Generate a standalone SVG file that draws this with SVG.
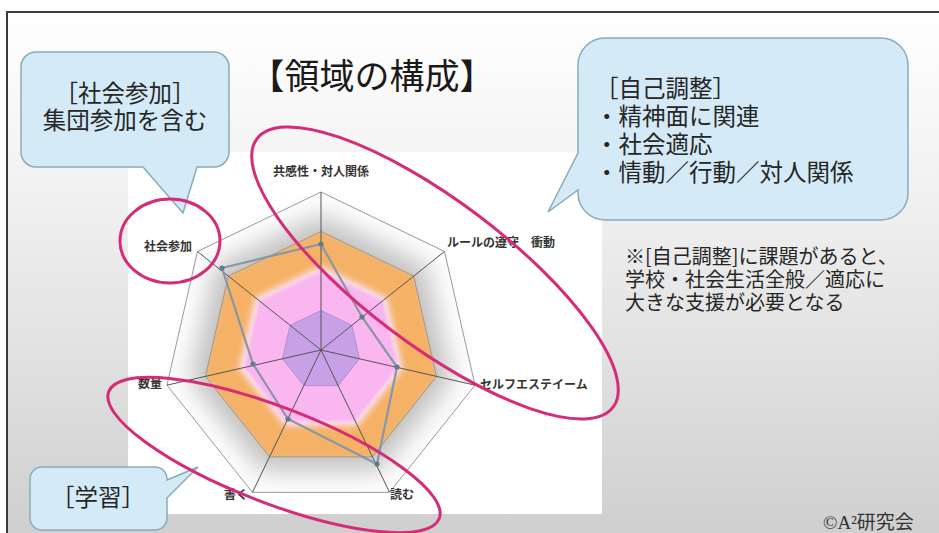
<svg xmlns="http://www.w3.org/2000/svg" width="939" height="533" viewBox="0 0 939 533">
<defs>
<linearGradient id="bg" x1="0" y1="12" x2="0" y2="533" gradientUnits="userSpaceOnUse">
<stop offset="0" stop-color="#ffffff"/>
<stop offset="0.35" stop-color="#f1f1f1"/>
<stop offset="1" stop-color="#cfcfcf"/>
</linearGradient>
<filter id="shadow" x="-40%" y="-40%" width="180%" height="180%"><feGaussianBlur stdDeviation="13"/></filter>
<filter id="soft" x="-20%" y="-20%" width="140%" height="140%"><feGaussianBlur stdDeviation="3"/></filter>
<filter id="soft1" x="-20%" y="-20%" width="140%" height="140%"><feGaussianBlur stdDeviation="1.6"/></filter>
<style>
.callout{fill:#d4eaf6;stroke:#8aabb9;stroke-width:1.5}
.ctext{font-family:"Noto Sans CJK JP","Noto Sans",sans-serif;font-size:23.5px;fill:#262626}
.axis{font-family:"Noto Sans CJK JP","Noto Sans",sans-serif;font-size:12px;font-weight:bold;fill:#333}
.note{font-family:"Noto Sans CJK JP","Noto Sans",sans-serif;font-size:20px;fill:#262626}
.ring{fill:none;stroke:#d62b77;stroke-width:3}
.spoke{stroke:#555;stroke-width:1}
.grid{fill:none;stroke:#9a9a9a;stroke-width:1}
.dot{fill:#5b7d8e}
</style>
</defs>

<rect x="0" y="0" width="939" height="533" fill="#ffffff"/>
<rect x="7" y="12" width="940" height="530" fill="url(#bg)"/>
<rect x="128" y="152" width="474" height="362" fill="#ffffff"/>
<path d="M7,533 V12 H939" fill="none" stroke="#3c3c3c" stroke-width="2"/>

<g id="title">
<text x="372" y="89" text-anchor="middle" font-family="'Noto Sans CJK JP','Noto Sans',sans-serif" font-size="35" fill="#1a1a1a">【領域の構成】</text>
</g>

<g id="radar-chart">
<polygon points="321,214 427,265 453,380 380,472 262,472 189,380 215,265" fill="#c2c2c2" filter="url(#shadow)"/>
<polygon points="321,231.5 413.65,276.12 436.53,376.37 372.42,456.77 269.58,456.77 205.47,376.37 228.35,276.12" fill="#f5b266" filter="url(#soft1)"/>
<polygon points="321,266 386.7,297.6 402.9,368.7 357.4,425.7 284.6,425.7 239.1,368.7 255.3,297.6" fill="#fbe3f6" filter="url(#soft)"/>
<polygon points="321,271 382.76,300.74 398.02,367.58 355.28,421.18 286.72,421.18 243.98,367.58 259.24,300.74" fill="#f9b6ef" filter="url(#soft1)"/>
<polygon points="321,310.5 351.88,325.37 359.51,358.79 338.14,385.59 303.86,385.59 282.49,358.79 290.12,325.37" fill="#c7a0e6" stroke="#b48ed6" stroke-width="1"/>
<polygon class="grid" points="321,231.5 413.65,276.12 436.53,376.37 372.42,456.77 269.58,456.77 205.47,376.37 228.35,276.12"/>
<polygon class="grid" points="321,192 444.53,251.49 475.04,385.16 389.55,492.35 252.45,492.35 166.96,385.16 197.47,251.49" stroke="#7a7a7a"/>
<g class="spoke">
<line x1="321" y1="350" x2="321" y2="192"/>
<line x1="321" y1="350" x2="444.53" y2="251.49"/>
<line x1="321" y1="350" x2="475.04" y2="385.16"/>
<line x1="321" y1="350" x2="389.55" y2="492.35"/>
<line x1="321" y1="350" x2="252.45" y2="492.35"/>
<line x1="321" y1="350" x2="166.96" y2="385.16"/>
<line x1="321" y1="350" x2="197.47" y2="251.49"/>
</g>
<polygon points="321,244 362,317 397,367 377,464 288,419 253,364 222,268" fill="none" stroke="#8797a6" stroke-width="2.2"/>
<g class="dot">
<circle cx="321" cy="244" r="2.6"/><circle cx="362" cy="317" r="2.6"/><circle cx="397" cy="367" r="2.6"/>
<circle cx="377" cy="464" r="2.6"/><circle cx="288" cy="419" r="2.6"/><circle cx="253" cy="364" r="2.6"/><circle cx="222" cy="268" r="2.6"/>
</g>
<text class="axis" x="321" y="176" text-anchor="middle">共感性・対人関係</text>
<text class="axis" x="447" y="247">ルールの遵守　衝動</text>
<text class="axis" x="480" y="389">セルフエステイーム</text>
<text class="axis" x="390" y="499">読む</text>
<text class="axis" x="248" y="499" text-anchor="end">書く</text>
<text class="axis" x="162" y="388" text-anchor="end">数量</text>
<text class="axis" x="192" y="251" text-anchor="end">社会参加</text>
</g>

<g id="callout-social">
<path class="callout" d="M36,52 H214 A15,15 0 0 1 229,67 V152 A15,15 0 0 1 214,167 H197 L183,213 L143,167 H36 A15,15 0 0 1 21,152 V67 A15,15 0 0 1 36,52 Z"/>
<text class="ctext" x="125" y="102" text-anchor="middle">［社会参加］</text>
<text class="ctext" x="125" y="129" text-anchor="middle">集団参加を含む</text>
</g>

<g id="callout-selfreg">
<path class="callout" d="M605,38 H881 A27,27 0 0 1 908,65 V193 A27,27 0 0 1 881,220 H605 A27,27 0 0 1 578,193 V190 L548,212 L578,153 V65 A27,27 0 0 1 605,38 Z"/>
<text class="ctext" x="595" y="97">［自己調整］</text>
<text class="ctext" x="595" y="125">・精神面に関連</text>
<text class="ctext" x="595" y="153">・社会適応</text>
<text class="ctext" x="595" y="181">・情動／行動／対人関係</text>
</g>

<g id="callout-learning">
<path class="callout" d="M42,467 H155 A12,12 0 0 1 167,479 V480 L198,467 L167,498 V518 A12,12 0 0 1 155,530 H42 A12,12 0 0 1 30,518 V479 A12,12 0 0 1 42,467 Z"/>
<text class="ctext" x="98" y="506" text-anchor="middle" font-size="24">［学習］</text>
</g>

<g id="note">
<text class="note" x="625" y="264">※[自己調整]に課題があると、</text>
<text class="note" x="625" y="287">学校・社会生活全般／適応に</text>
<text class="note" x="625" y="310">大きな支援が必要となる</text>
</g>

<g id="copyright">
<text x="823" y="529" font-family="'Liberation Serif','Noto Sans CJK JP',serif" font-size="19" fill="#333">©A²研究会</text>
</g>

<g id="connectors">
<ellipse class="ring" cx="170" cy="241" rx="50" ry="42"/>
<ellipse class="ring" cx="435" cy="273" rx="223" ry="72" transform="rotate(37 435 273)"/>
<ellipse class="ring" cx="274" cy="455" rx="177" ry="48" transform="rotate(21 274 455)"/>
</g>
</svg>
